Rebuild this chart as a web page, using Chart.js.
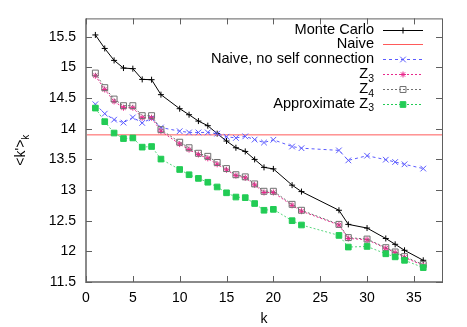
<!DOCTYPE html>
<html>
<head>
<meta charset="UTF-8">
<title>k' vs k</title>
<script src="https://cdn.jsdelivr.net/npm/chart.js"></script>
<style>
  body { margin: 0; background: #fff; }
  canvas { display: block; }
</style>
</head>
<body>
<canvas id="chart" width="467" height="327"></canvas>
<script>
// k values shared by every series
const kVals = [1, 2, 3, 4, 5, 6, 7, 8, 10, 11, 12, 13, 14, 15, 16, 17, 18, 19, 20, 22, 23, 27, 28, 30, 32, 33, 34, 36];

const monteCarlo = [15.53, 15.31, 15.115, 14.99, 14.98, 14.805, 14.80, 14.556, 14.327, 14.229, 14.125, 14.05, 13.92, 13.80,
  13.69, 13.63, 13.50, 13.37, 13.345, 13.08, 12.975, 12.67, 12.44, 12.38, 12.21, 12.115, 12.017, 11.854];
const naiveK = [0, 38];
const naive = [13.9, 13.9];
const noSelf = [14.40, 14.246, 14.148, 14.10, 14.185, 14.095, 14.17, 14.02, 13.96, 13.94, 13.94, 13.94, 13.92, 13.87,
  13.85, 13.876, 13.823, 13.775, 13.82, 13.71, 13.683, 13.647, 13.484, 13.56, 13.495, 13.457, 13.42, 13.35];
const z3 = [14.865, 14.64, 14.446, 14.343, 14.343, 14.18, 14.18, 13.96, 13.75, 13.66, 13.58, 13.517, 13.42, 13.33,
  13.235, 13.20, 13.085, 12.96, 12.96, 12.75, 12.655, 12.43, 12.21, 12.19, 12.05, 11.98, 11.90, 11.77];
const z4 = [14.908, 14.67, 14.484, 14.376, 14.376, 14.213, 14.213, 13.985, 13.78, 13.69, 13.60, 13.55, 13.45, 13.35,
  13.25, 13.215, 13.10, 12.98, 12.98, 12.767, 12.67, 12.44, 12.224, 12.20, 12.06, 11.99, 11.914, 11.784];
const approxZ3 = [14.337, 14.115, 13.93, 13.84, 13.85, 13.70, 13.71, 13.505, 13.335, 13.25, 13.19, 13.127, 13.05, 12.955,
  12.886, 12.876, 12.78, 12.67, 12.685, 12.50, 12.43, 12.26, 12.07, 12.08, 11.96, 11.91, 11.854, 11.735];

const xTicks = [0, 5, 10, 15, 20, 25, 30, 35];
const yTicks = [11.5, 12, 12.5, 13, 13.5, 14, 14.5, 15, 15.5];

const FONT = '"Liberation Sans", Arial, sans-serif';

function pts(xs, ys) {
  return xs.map((x, i) => ({ x: x, y: ys[i] }));
}

// legend entries: [main text, subscript, color, dash, marker, radius, filled]
const legendRows = [
  ['Monte Carlo', '', '#000000', [], 'cross', 3, false],
  ['Naive', '', '#ff5a5a', [], null, 0, false],
  ['Naive, no self connection', '', '#5a5aff', [3, 3], 'crossRot', 4, false],
  ['Z', '3', '#e8288c', [2, 2], 'star', 3, false],
  ['Z', '4', '#707070', [2, 2], 'rect', 4.2, false],
  ['Approximate Z', '3', '#22cc55', [2, 2], 'rect', 4, true]
];

function marker(ctx, style, x, y, r, color, filled) {
  ctx.save();
  ctx.setLineDash([]);
  ctx.strokeStyle = color;
  ctx.fillStyle = color;
  ctx.lineWidth = 1;
  ctx.beginPath();
  if (style === 'cross' || style === 'star') {
    ctx.moveTo(x - r, y); ctx.lineTo(x + r, y);
    ctx.moveTo(x, y - r); ctx.lineTo(x, y + r);
  }
  if (style === 'crossRot' || style === 'star') {
    const d = r * Math.SQRT1_2;
    ctx.moveTo(x - d, y - d); ctx.lineTo(x + d, y + d);
    ctx.moveTo(x - d, y + d); ctx.lineTo(x + d, y - d);
  }
  if (style === 'rect') {
    const s = r * Math.SQRT1_2;
    ctx.rect(x - s, y - s, 2 * s, 2 * s);
    if (filled) ctx.fill();
  }
  ctx.stroke();
  ctx.restore();
}

const decor = {
  id: 'decor',
  afterDraw(chart) {
    const ctx = chart.ctx;
    const a = chart.chartArea;
    const xs = chart.scales.x, ys = chart.scales.y;
    ctx.save();

    // frame
    ctx.strokeStyle = '#606060';
    ctx.lineWidth = 1;
    ctx.strokeRect(a.left + 0.5, a.top + 0.5, a.right - a.left, a.bottom - a.top);
    ctx.strokeStyle = '#8a8a8a';
    ctx.lineWidth = 2;
    ctx.beginPath();
    ctx.moveTo(a.left, a.top); ctx.lineTo(a.left, a.bottom); ctx.lineTo(a.right, a.bottom);
    ctx.stroke();

    // inward ticks on all four sides
    ctx.strokeStyle = '#606060';
    ctx.lineWidth = 1;
    ctx.beginPath();
    xTicks.forEach(v => {
      const px = Math.round(xs.getPixelForValue(v)) + 0.5;
      ctx.moveTo(px, a.bottom); ctx.lineTo(px, a.bottom - 6);
      ctx.moveTo(px, a.top); ctx.lineTo(px, a.top + 6);
    });
    yTicks.forEach(v => {
      const py = Math.round(ys.getPixelForValue(v)) + 0.5;
      ctx.moveTo(a.left, py); ctx.lineTo(a.left + 6, py);
      ctx.moveTo(a.right, py); ctx.lineTo(a.right - 6, py);
    });
    ctx.stroke();

    // x title
    ctx.fillStyle = '#000';
    ctx.font = '14px ' + FONT;
    ctx.textAlign = 'center';
    ctx.textBaseline = 'middle';
    ctx.fillText('k', (a.left + a.right) / 2, 319);

    // y title <k'>_k
    ctx.save();
    ctx.translate(21, (a.top + a.bottom) / 2);
    ctx.rotate(-Math.PI / 2);
    ctx.font = '14px ' + FONT;
    const mainW = ctx.measureText("<k'>").width;
    ctx.font = '10px ' + FONT;
    const subW = ctx.measureText('k').width;
    const x0 = -(mainW + subW) / 2;
    ctx.textAlign = 'left';
    ctx.textBaseline = 'middle';
    ctx.font = '14px ' + FONT;
    ctx.fillText("<k'>", x0, 0);
    ctx.font = '10px ' + FONT;
    ctx.fillText('k', x0 + mainW, 5);
    ctx.restore();

    // legend
    const textRight = 374, lineL = 383, lineR = 423, mid = 403;
    legendRows.forEach((row, i) => {
      const y = 29.5 + i * 14.8;
      const [main, sub, color, dash, mk, r, filled] = row;
      ctx.textBaseline = 'middle';
      ctx.textAlign = 'left';
      ctx.fillStyle = '#000';
      ctx.font = '10.5px ' + FONT;
      const sw = sub ? ctx.measureText(sub).width : 0;
      ctx.font = '14.6px ' + FONT;
      const mw = ctx.measureText(main).width;
      ctx.fillText(main, textRight - sw - mw, y);
      if (sub) {
        ctx.font = '10.5px ' + FONT;
        ctx.fillText(sub, textRight - sw, y + 5);
      }
      ctx.strokeStyle = color;
      ctx.lineWidth = 1;
      ctx.setLineDash(dash);
      ctx.beginPath();
      ctx.moveTo(lineL, Math.round(y) + 0.5);
      ctx.lineTo(lineR, Math.round(y) + 0.5);
      ctx.stroke();
      ctx.setLineDash([]);
      if (mk) marker(ctx, mk, mid, Math.round(y) + 0.5, r, color, filled);
    });
    ctx.restore();
  }
};

new Chart(document.getElementById('chart'), {
  type: 'scatter',
  data: {
    datasets: [
      { label: 'Monte Carlo', data: pts(kVals, monteCarlo), showLine: true, borderColor: '#000', borderWidth: 1,
        pointStyle: 'cross', pointRadius: 3, pointBorderColor: '#000', pointBorderWidth: 1, order: 6 },
      { label: 'Naive', data: pts(naiveK, naive), showLine: true, borderColor: '#ff5a5a', borderWidth: 1,
        pointRadius: 0, order: 5 },
      { label: 'Naive, no self connection', data: pts(kVals, noSelf), showLine: true, borderColor: '#5a5aff',
        borderWidth: 1, borderDash: [3, 3], pointStyle: 'crossRot', pointRadius: 4, pointBorderColor: '#5a5aff',
        pointBorderWidth: 1, order: 4 },
      { label: 'Z3', data: pts(kVals, z3), showLine: true, borderColor: '#e8288c', borderWidth: 1,
        borderDash: [2, 2], pointStyle: 'star', pointRadius: 3, pointBorderColor: '#e8288c',
        pointBorderWidth: 1, order: 3 },
      { label: 'Z4', data: pts(kVals, z4), showLine: true, borderColor: '#707070', borderWidth: 1,
        borderDash: [2, 2], pointStyle: 'rect', pointRadius: 4.2, pointBorderColor: '#707070',
        pointBackgroundColor: 'rgba(0,0,0,0)', pointBorderWidth: 1, order: 2 },
      { label: 'Approximate Z3', data: pts(kVals, approxZ3), showLine: true, borderColor: '#5ad67e', borderWidth: 1,
        borderDash: [2, 2], pointStyle: 'rect', pointRadius: 4, pointBorderColor: '#22cc55',
        pointBackgroundColor: '#22cc55', pointBorderWidth: 1, order: 1 }
    ]
  },
  options: {
    responsive: false,
    animation: false,
    devicePixelRatio: 1,
    layout: { padding: { left: 0, top: 17, right: 25, bottom: 0 } },
    plugins: { legend: { display: false }, tooltip: { enabled: false } },
    scales: {
      x: {
        type: 'linear', min: 0, max: 38,
        grid: { display: false, drawTicks: false },
        border: { display: false },
        afterBuildTicks: s => { s.ticks = xTicks.map(v => ({ value: v })); },
        afterFit: s => { s.height = 45; },
        ticks: { padding: 8, color: '#000', font: { family: FONT, size: 14 }, callback: v => String(v) }
      },
      y: {
        type: 'linear', min: 11.5, max: 15.8,
        grid: { display: false, drawTicks: false },
        border: { display: false },
        afterBuildTicks: s => { s.ticks = yTicks.map(v => ({ value: v })); },
        afterFit: s => { s.width = 86; },
        ticks: { padding: 10, color: '#000', font: { family: FONT, size: 14 }, callback: v => String(v) }
      }
    }
  },
  plugins: [decor]
});
</script>
</body>
</html>
